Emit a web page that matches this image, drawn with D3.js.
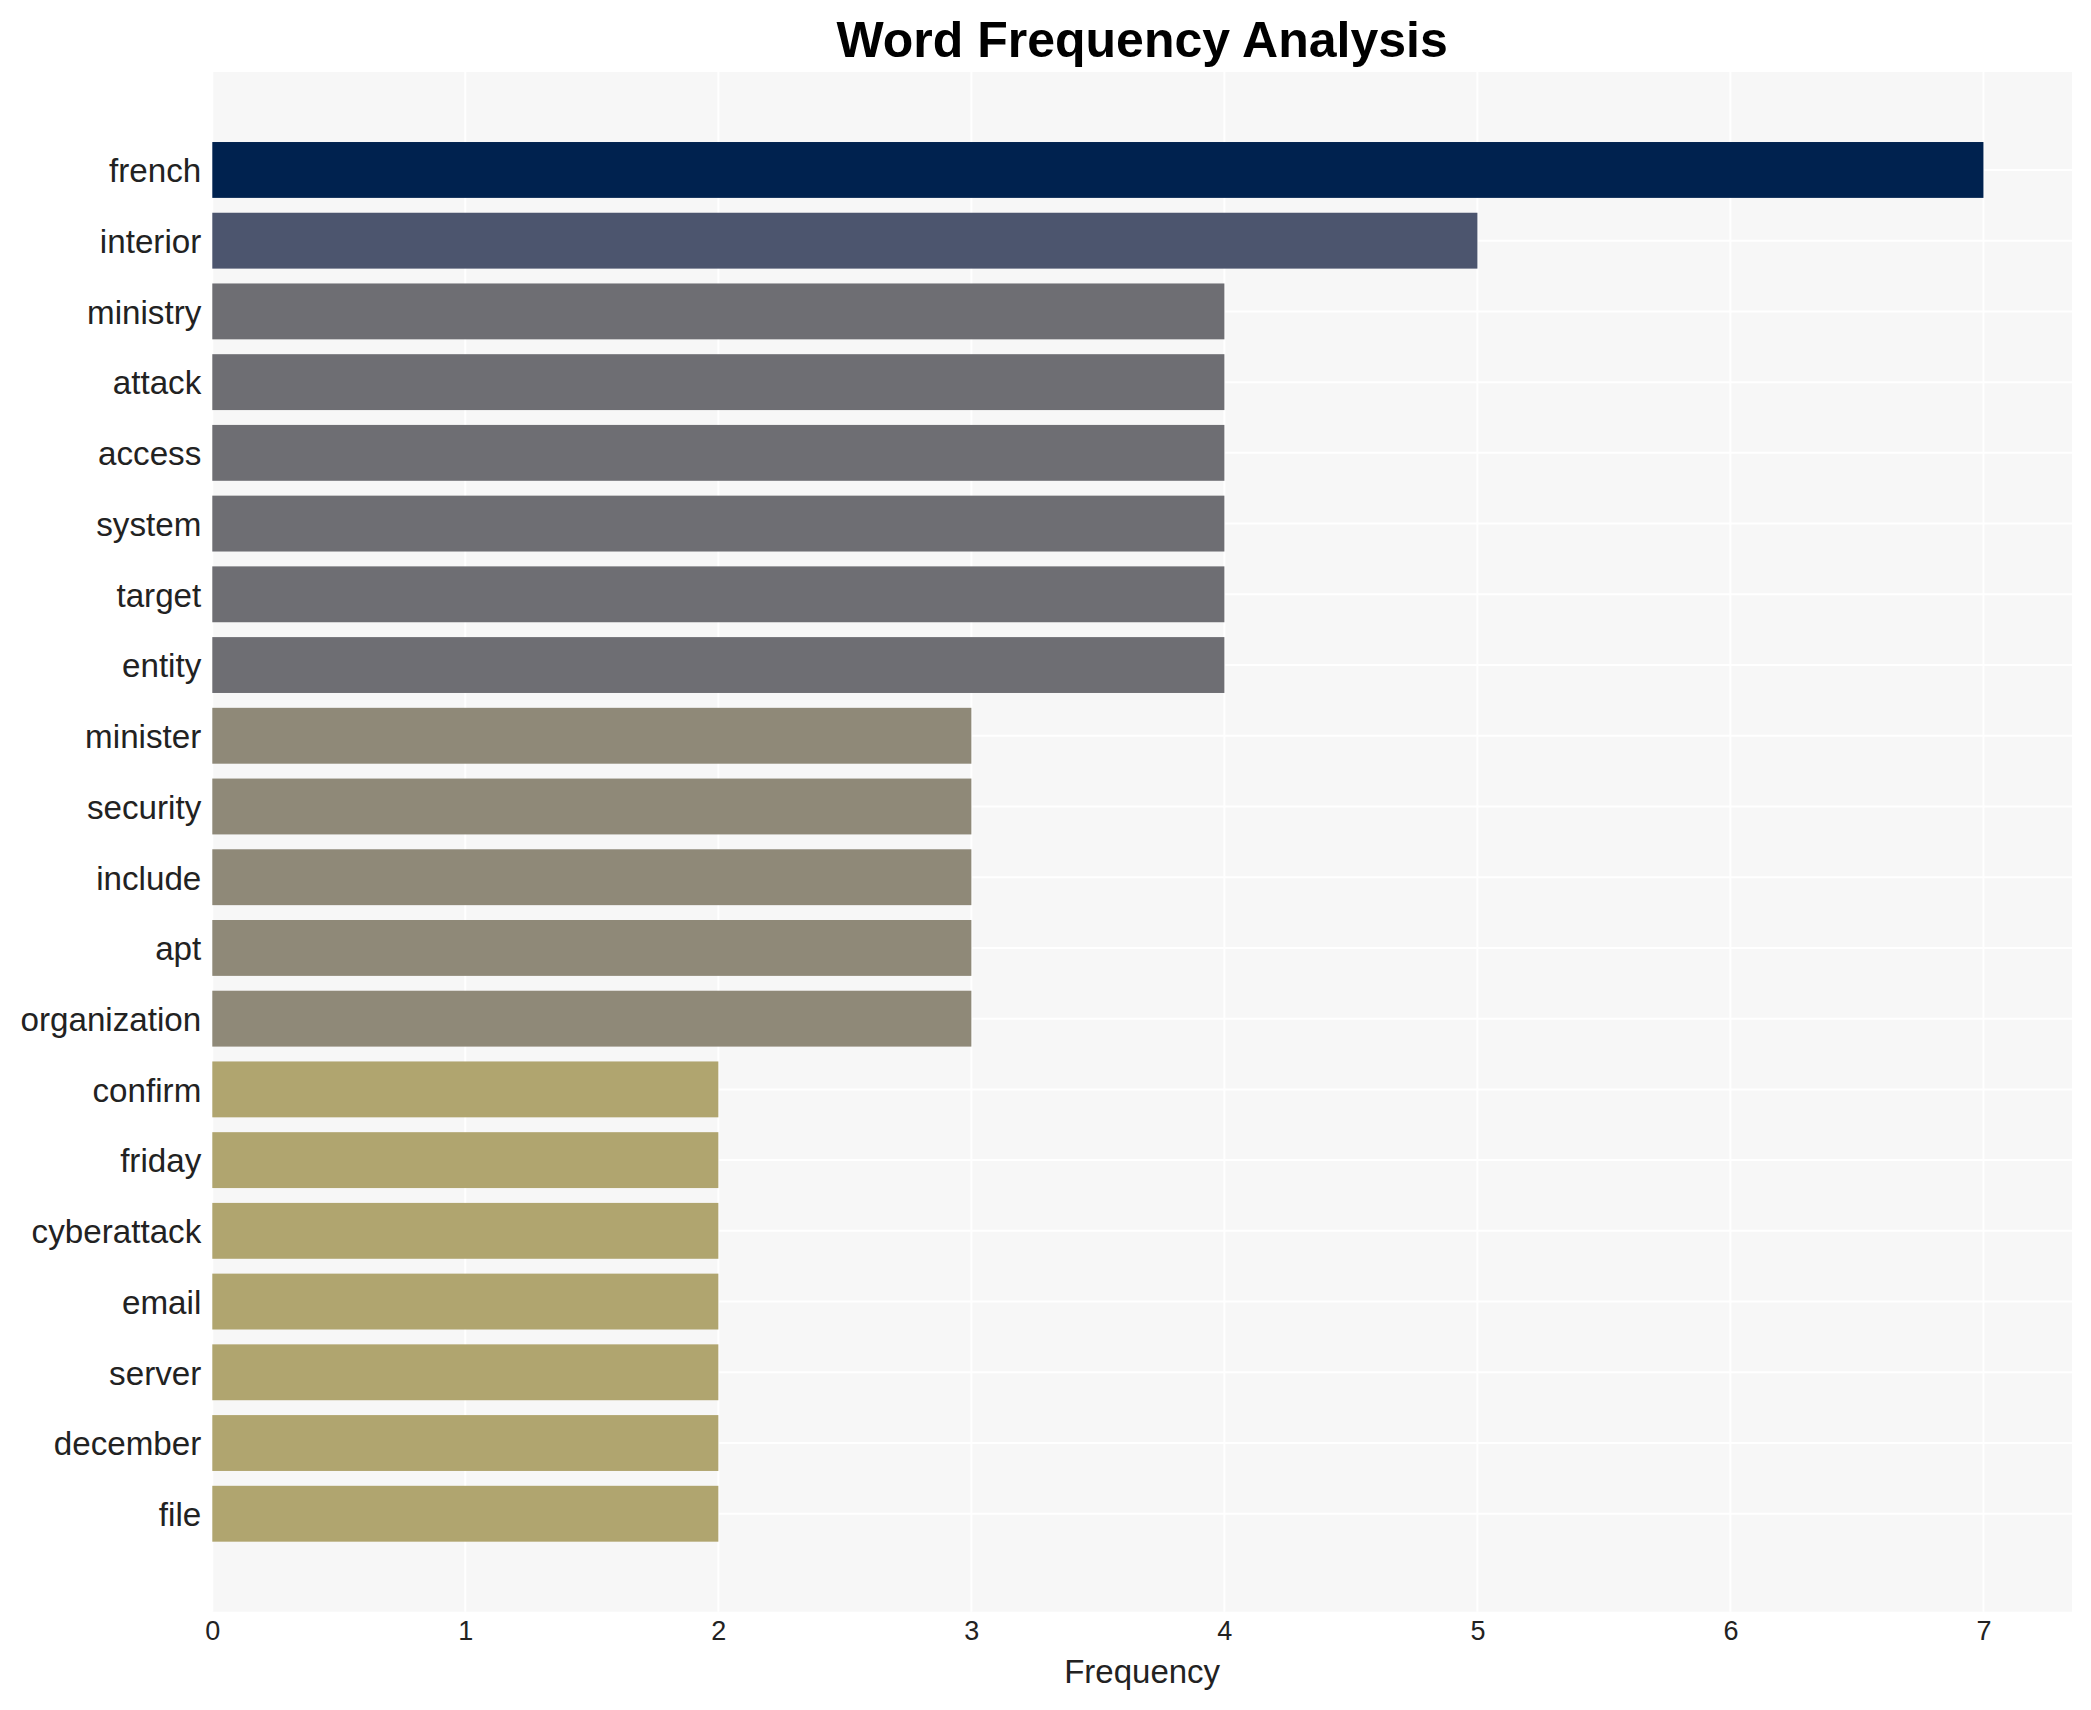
<!DOCTYPE html>
<html>
<head>
<meta charset="utf-8">
<script src="https://cdn.jsdelivr.net/npm/d3@7"></script>
<style>
  body { margin: 0; background: #fff; }
  text { font-family: "Liberation Sans", Arial, sans-serif; }
</style>
</head>
<body>
<div id="chart"></div>
<script>
// word counts, top to bottom
const words = ["french", "interior", "ministry", "attack", "access", "system",
  "target", "entity", "minister", "security", "include", "apt", "organization",
  "confirm", "friday", "cyberattack", "email", "server", "december", "file"];
const counts = [7, 5, 4, 4, 4, 4, 4, 4, 3, 3, 3, 3, 3, 2, 2, 2, 2, 2, 2, 2];
const xTicks = [0, 1, 2, 3, 4, 5, 6, 7];

(function() {
  let data = words.map((w, i) => ({ word: w, n: counts[i] }));

  let size = { width: 2091, height: 1710 };
  let panel = { left: 212.3, right: 2072, top: 72, bottom: 1611.7 };

  let svg = d3.select("#chart")
    .append("svg")
    .attr("width", size.width)
    .attr("height", size.height);

  let x = d3.scaleLinear()
    .domain([0, 7.35])
    .range([panel.left, panel.right]);

  let y = d3.scaleBand()
    .domain(words)
    .range([panel.top, panel.bottom])
    .paddingInner(0.21)
    .paddingOuter(0.99);

  // fill goes from khaki (low) to navy (high)
  let fill = d3.scaleLinear()
    .domain([2, 3, 4, 5, 7])
    .range(["#b0a56f", "#8f8978", "#6e6e73", "#4c556e", "#00224f"]);

  svg.append("rect")
    .attr("x", panel.left)
    .attr("y", panel.top)
    .attr("width", panel.right - panel.left)
    .attr("height", panel.bottom - panel.top)
    .attr("fill", "#f7f7f7");

  let grid = svg.append("g").attr("class", "grid");

  grid.selectAll("line.v")
    .data(xTicks)
    .enter()
    .append("line")
    .attr("class", "v")
    .attr("x1", d => x(d))
    .attr("x2", d => x(d))
    .attr("y1", panel.top)
    .attr("y2", panel.bottom)
    .attr("stroke", "#fff")
    .attr("stroke-width", 2);

  grid.selectAll("line.h")
    .data(words)
    .enter()
    .append("line")
    .attr("class", "h")
    .attr("x1", panel.left)
    .attr("x2", panel.right)
    .attr("y1", d => y(d) + y.bandwidth() / 2)
    .attr("y2", d => y(d) + y.bandwidth() / 2)
    .attr("stroke", "#fff")
    .attr("stroke-width", 2);

  svg.append("g")
    .selectAll("rect")
    .data(data)
    .enter()
    .append("rect")
    .attr("x", x(0))
    .attr("y", d => y(d.word))
    .attr("width", d => x(d.n) - x(0))
    .attr("height", y.bandwidth())
    .attr("fill", d => fill(d.n));

  // y axis labels
  let yAxis = d3.axisLeft(y).tickSize(0).tickPadding(11);
  let gy = svg.append("g")
    .attr("transform", "translate(" + panel.left + ",0)")
    .call(yAxis);
  gy.select(".domain").remove();
  gy.selectAll("text")
    .attr("fill", "#222")
    .attr("dy", "0.37em")
    .style("font-size", "33.2px")
    .style("font-family", "'Liberation Sans', Arial, sans-serif");

  // x axis
  let xAxis = d3.axisBottom(x).tickValues(xTicks).tickSize(0).tickPadding(9)
    .tickFormat(d3.format("d"));
  let gx = svg.append("g")
    .attr("transform", "translate(0," + panel.bottom + ")")
    .call(xAxis);
  gx.select(".domain").remove();
  gx.selectAll("text")
    .attr("fill", "#222")
    .style("font-size", "27px")
    .style("font-family", "'Liberation Sans', Arial, sans-serif");

  svg.append("text")
    .attr("x", (panel.left + panel.right) / 2)
    .attr("y", 1683)
    .attr("text-anchor", "middle")
    .attr("fill", "#222")
    .style("font-size", "33px")
    .text("Frequency");

  svg.append("text")
    .attr("x", (panel.left + panel.right) / 2)
    .attr("y", 57)
    .attr("text-anchor", "middle")
    .attr("fill", "#000")
    .style("font-size", "50px")
    .style("font-weight", "bold")
    .text("Word Frequency Analysis");
})();
</script>
</body>
</html>
